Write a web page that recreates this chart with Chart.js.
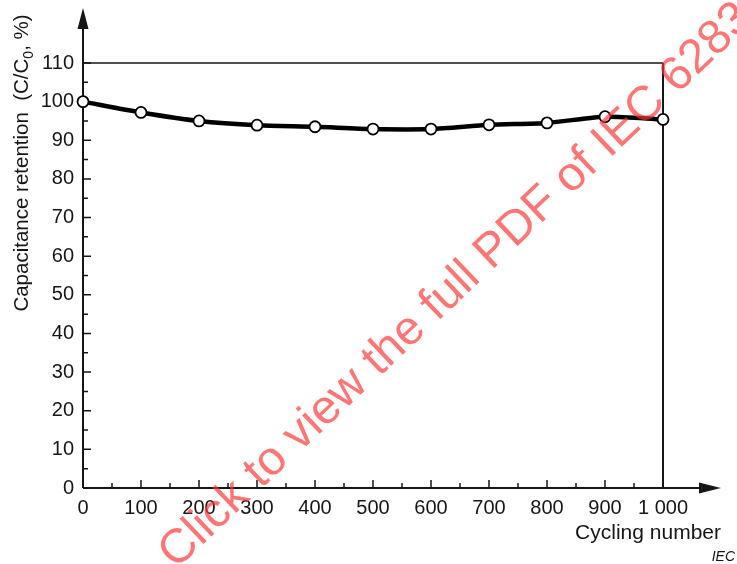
<!DOCTYPE html>
<html>
<head>
<meta charset="utf-8">
<script src="https://cdn.jsdelivr.net/npm/chart.js@4.4.1/dist/chart.umd.min.js"></script>
<style>
  html, body { margin: 0; padding: 0; background: #fff; }
  #wrap { width: 737px; height: 564px; position: relative; }
</style>
</head>
<body>
<div id="wrap"><canvas id="c" width="737" height="564"></canvas></div>
<script>
// ---- data ----
const cycles = [0, 100, 200, 300, 400, 500, 600, 700, 800, 900, 1000];
const retention = [100, 97.2, 95.0, 93.9, 93.5, 92.9, 92.9, 94.0, 94.5, 96.1, 95.4];
const xMajorTicks = [0, 100, 200, 300, 400, 500, 600, 700, 800, 900, 1000];
const xTickLabels = ['0', '100', '200', '300', '400', '500', '600', '700', '800', '900', '1 000'];
const xMinorTicks = [50, 150, 250, 350, 450, 550, 650, 750, 850, 950];
const yMajorTicks = [0, 10, 20, 30, 40, 50, 60, 70, 80, 90, 100, 110];
const yTickLabels = ['0', '10', '20', '30', '40', '50', '60', '70', '80', '90', '100', '110'];
const yMinorTicks = [5, 15, 25, 35, 45, 55, 65, 75, 85, 95, 105];
const yTitleParts = ['Capacitance retention  (C/C', '0', ', %)'];
const xTitle = 'Cycling number';
const sourceNote = 'IEC';
const watermark = 'Click to view the full PDF of IEC 62835';

const FONT = '"Liberation Sans", Arial, Helvetica, sans-serif';
const INK = '#161616';

const axesPlugin = {
  id: 'axesPlugin',
  beforeDatasetsDraw(chart) {
    const ctx = chart.ctx;
    const x = chart.scales.x, y = chart.scales.y;
    const x0 = x.getPixelForValue(0), y0 = y.getPixelForValue(0);
    ctx.save();
    ctx.strokeStyle = INK;
    ctx.fillStyle = INK;
    // box: top line and right line
    ctx.lineWidth = 1.3;
    ctx.beginPath();
    ctx.moveTo(x0, y.getPixelForValue(110));
    ctx.lineTo(x.getPixelForValue(1000), y.getPixelForValue(110));
    ctx.stroke();
    ctx.lineWidth = 2;
    ctx.beginPath();
    ctx.moveTo(x.getPixelForValue(1000), y.getPixelForValue(110));
    ctx.lineTo(x.getPixelForValue(1000), y0);
    ctx.stroke();
    // axes
    ctx.lineWidth = 2;
    ctx.beginPath();
    ctx.moveTo(x0, y0);
    ctx.lineTo(x0, 26);
    ctx.moveTo(x0, y0);
    ctx.lineTo(702, y0);
    ctx.stroke();
    // arrows
    ctx.beginPath();
    ctx.moveTo(x0, 8);
    ctx.lineTo(x0 - 5.5, 29);
    ctx.lineTo(x0 + 5.5, 29);
    ctx.closePath();
    ctx.fill();
    ctx.beginPath();
    ctx.moveTo(721, y0);
    ctx.lineTo(699, y0 - 5.5);
    ctx.lineTo(699, y0 + 5.5);
    ctx.closePath();
    ctx.fill();
    // ticks (inward)
    ctx.lineWidth = 1.5;
    ctx.beginPath();
    xMajorTicks.forEach(v => { const p = x.getPixelForValue(v); ctx.moveTo(p, y0); ctx.lineTo(p, y0 - 8); });
    xMinorTicks.forEach(v => { const p = x.getPixelForValue(v); ctx.moveTo(p, y0); ctx.lineTo(p, y0 - 5); });
    yMajorTicks.forEach(v => { const p = y.getPixelForValue(v); ctx.moveTo(x0, p); ctx.lineTo(x0 + 8, p); });
    yMinorTicks.forEach(v => { const p = y.getPixelForValue(v); ctx.moveTo(x0, p); ctx.lineTo(x0 + 5, p); });
    ctx.stroke();
    // titles
    ctx.font = '21px ' + FONT;
    ctx.fillStyle = INK;
    ctx.textAlign = 'right';
    ctx.textBaseline = 'alphabetic';
    ctx.fillText(xTitle, 721, 539);
    ctx.font = 'italic 14px ' + FONT;
    ctx.fillText(sourceNote, 735, 561);
    // rotated y title with subscript
    ctx.save();
    ctx.translate(28, 163);
    ctx.rotate(-Math.PI / 2);
    ctx.textAlign = 'left';
    const big = '20.5px ' + FONT, small = '14px ' + FONT;
    ctx.font = big; const w1 = ctx.measureText(yTitleParts[0]).width;
    const w3 = ctx.measureText(yTitleParts[2]).width;
    ctx.font = small; const w2 = ctx.measureText(yTitleParts[1]).width;
    let cx = -(w1 + w2 + w3) / 2;
    ctx.font = big; ctx.fillText(yTitleParts[0], cx, 0); cx += w1;
    ctx.font = small; ctx.fillText(yTitleParts[1], cx, 5); cx += w2;
    ctx.font = big; ctx.fillText(yTitleParts[2], cx, 0);
    ctx.restore();
    ctx.restore();
  },
  afterDraw(chart) {
    const ctx = chart.ctx;
    ctx.save();
    ctx.translate(176, 570);
    ctx.rotate(-43.5 * Math.PI / 180);
    ctx.font = '48px ' + FONT;
    ctx.fillStyle = 'rgba(255, 50, 50, 0.68)';
    ctx.textAlign = 'left';
    ctx.textBaseline = 'alphabetic';
    ctx.fillText(watermark, 0, 0);
    ctx.restore();
  }
};

new Chart(document.getElementById('c'), {
  type: 'line',
  data: {
    datasets: [{
      data: cycles.map((c, i) => ({ x: c, y: retention[i] })),
      borderColor: '#000',
      borderWidth: 4.5,
      tension: 0.25,
      pointRadius: 5.5,
      pointBorderWidth: 1.8,
      pointBackgroundColor: '#fff',
      pointBorderColor: '#000',
      clip: false
    }]
  },
  options: {
    responsive: false,
    animation: false,
    events: [],
    layout: { padding: { top: 63, right: 74, left: 0, bottom: 0 } },
    plugins: { legend: { display: false }, tooltip: { enabled: false }, title: { display: false } },
    scales: {
      x: {
        type: 'linear', min: 0, max: 1000,
        grid: { display: false, drawTicks: false },
        border: { display: false },
        afterBuildTicks(s) { s.ticks = xMajorTicks.map(v => ({ value: v })); },
        afterFit(s) { s.height = 76; },
        ticks: {
          autoSkip: false, maxRotation: 0, padding: 8,
          color: INK, font: { family: FONT, size: 20 },
          callback(v) { const i = xMajorTicks.indexOf(v); return i >= 0 ? xTickLabels[i] : ''; }
        }
      },
      y: {
        type: 'linear', min: 0, max: 110,
        grid: { display: false, drawTicks: false },
        border: { display: false },
        afterBuildTicks(s) { s.ticks = yMajorTicks.map(v => ({ value: v })); },
        afterFit(s) { s.width = 83; },
        ticks: {
          autoSkip: false, padding: 9,
          color: INK, font: { family: FONT, size: 20 },
          callback(v) { const i = yMajorTicks.indexOf(v); return i >= 0 ? yTickLabels[i] : ''; }
        }
      }
    }
  },
  plugins: [axesPlugin]
});
</script>
</body>
</html>
